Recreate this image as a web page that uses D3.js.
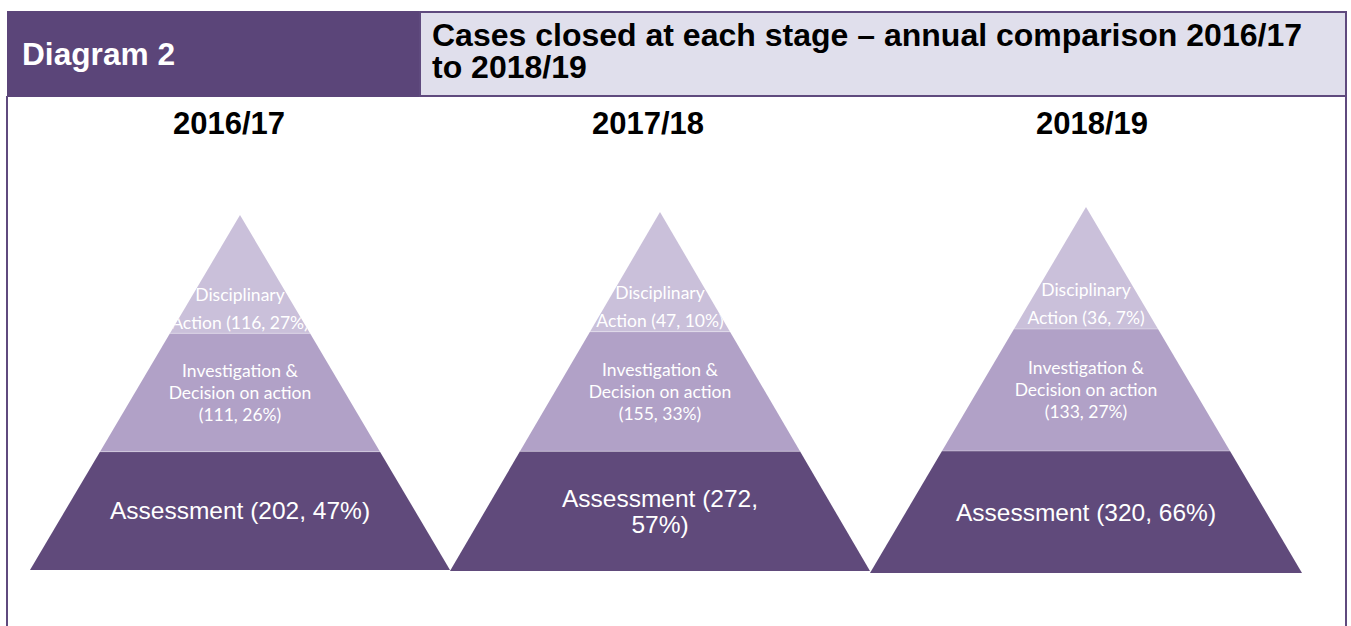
<!DOCTYPE html>
<html>
<head>
<meta charset="utf-8">
<script src="https://cdn.jsdelivr.net/npm/d3@7"></script>
<style>
html,body{margin:0;padding:0;background:#ffffff;overflow:hidden}
</style>
</head>
<body>
<svg id="chart" width="1351" height="626"></svg>
<script>
// ---------------- DATA ----------------
const years = ["2016/17", "2017/18", "2018/19"];
const stageNames = ["Assessment", "Investigation & Decision on action", "Disciplinary Action"];
const assessmentCounts = [202, 272, 320];
const assessmentPcts = [47, 57, 66];
const investigationCounts = [111, 155, 133];
const investigationPcts = [26, 33, 27];
const disciplinaryCounts = [116, 47, 36];
const disciplinaryPcts = [27, 10, 7];
const diagramLabel = "Diagram 2";
const titleLines = ["Cases closed at each stage \u2013 annual comparison 2016/17", "to 2018/19"];

// ---------------- LAYOUT ----------------
const W = 1351, H = 626;
const frames = [
  {cx: 240,  apexY: 215, half: 210, baseY: 570, wrapW: 300, yearX: 229},
  {cx: 660,  apexY: 212, half: 210, baseY: 571, wrapW: 240, yearX: 648},
  {cx: 1086, apexY: 207, half: 216, baseY: 573, wrapW: 330, yearX: 1092}
];
const colors = {
  header: "#5B4579",
  headerLight: "#E0DFEC",
  border: "#5F4A7E",
  bands: ["#604A7B", "#B1A1C7", "#CAC0DA"]
};
const sansBold = "'Liberation Sans', Arial, sans-serif";
const calibriLike = "Lato, 'Open Sans', sans-serif";
const headFs = 31;

const svg = d3.select("#chart");

// ---------------- HEADER ----------------
svg.append("rect").attr("x", 7).attr("y", 11).attr("width", 413).attr("height", 86)
  .attr("fill", colors.header);
svg.append("rect").attr("x", 420).attr("y", 12).attr("width", 926).attr("height", 84)
  .attr("fill", colors.headerLight).attr("stroke", colors.border).attr("stroke-width", 2);
svg.append("line").attr("x1", 7).attr("x2", 7).attr("y1", 96).attr("y2", H)
  .attr("stroke", colors.border).attr("stroke-width", 2);
svg.append("line").attr("x1", 1346).attr("x2", 1346).attr("y1", 12).attr("y2", H)
  .attr("stroke", colors.border).attr("stroke-width", 2);

function fitWidth(sel, target) {
  const w = sel.node().getComputedTextLength();
  sel.attr("textLength", target).attr("lengthAdjust", "spacingAndGlyphs");
  return target / w;
}

const diag = svg.append("text").attr("x", 22).attr("y", 65)
  .attr("font-family", sansBold).attr("font-weight", "bold").attr("font-size", headFs)
  .attr("fill", "#ffffff").text(diagramLabel);
fitWidth(diag, 153);

const titleG = svg.append("g");
let titleScale = 1;
titleLines.forEach((t, i) => {
  const el = titleG.append("text").attr("x", 432).attr("y", 46 + i * 32)
    .attr("font-family", sansBold).attr("font-weight", "bold").attr("font-size", headFs)
    .attr("fill", "#000000").text(t);
  if (i === 0) titleScale = fitWidth(el, 870);
  else {
    const w = el.node().getComputedTextLength();
    el.attr("textLength", w * titleScale).attr("lengthAdjust", "spacingAndGlyphs");
  }
});

// year labels
svg.selectAll("text.year").data(years).join("text").attr("class", "year")
  .attr("x", (d, i) => frames[i].yearX).attr("y", 134)
  .attr("text-anchor", "middle")
  .attr("font-family", sansBold).attr("font-weight", "bold").attr("font-size", headFs)
  .attr("fill", "#000000").text(d => d);

// ---------------- PYRAMIDS ----------------
const defs = svg.append("defs");

years.forEach((yr, i) => {
  const f = frames[i];
  const yScale = d3.scaleLinear().domain([0, 3]).range([f.baseY, f.apexY]);
  const halfW = d3.scaleLinear().domain([f.apexY, f.baseY]).range([0, f.half]);

  const stages = [
    {level: 0, name: stageNames[0], count: assessmentCounts[i], pct: assessmentPcts[i]},
    {level: 1, name: stageNames[1], count: investigationCounts[i], pct: investigationPcts[i]},
    {level: 2, name: stageNames[2], count: disciplinaryCounts[i], pct: disciplinaryPcts[i]}
  ];

  const poly = d => {
    const y0 = yScale(d.level), y1 = yScale(d.level + 1);
    return [[f.cx - halfW(y0), y0], [f.cx + halfW(y0), y0], [f.cx + halfW(y1), y1], [f.cx - halfW(y1), y1]];
  };
  const line = d3.line();

  const g = svg.append("g").attr("class", "pyramid");
  g.selectAll("path.band").data(stages).join("path").attr("class", "band")
    .attr("d", d => line(poly(d)) + "Z")
    .attr("fill", d => colors.bands[d.level]);
  g.selectAll("line.sep").data([1, 2]).join("line").attr("class", "sep")
    .attr("x1", d => f.cx - halfW(yScale(d))).attr("x2", d => f.cx + halfW(yScale(d)))
    .attr("y1", d => yScale(d)).attr("y2", d => yScale(d))
    .attr("stroke", "#ffffff").attr("stroke-opacity", 0.35).attr("stroke-width", 1);

  const clipId = "clipTop" + i;
  defs.append("clipPath").attr("id", clipId).append("path")
    .attr("d", line(poly(stages[2])) + "Z");

  // bottom label (wraps)
  const b = stages[0];
  const bCenter = (yScale(0) + yScale(1)) / 2;
  const bText = `${b.name} (${b.count}, ${b.pct}%)`;
  const bFs = 24.5, bLh = 26;
  const tmp = g.append("text").attr("font-family", "'Liberation Sans', Arial, sans-serif")
    .attr("font-size", bFs);
  const words = bText.split(" ");
  const lines = [];
  let cur = "";
  words.forEach(w => {
    const test = cur ? cur + " " + w : w;
    tmp.text(test);
    if (tmp.node().getComputedTextLength() > f.wrapW && cur) { lines.push(cur); cur = w; }
    else cur = test;
  });
  lines.push(cur);
  tmp.remove();
  const bt = g.append("text").attr("text-anchor", "middle")
    .attr("font-family", "'Liberation Sans', Arial, sans-serif").attr("font-size", bFs)
    .attr("fill", "#ffffff");
  lines.forEach((l, k) => {
    bt.append("tspan").attr("x", f.cx)
      .attr("y", bCenter + (k - (lines.length - 1) / 2) * bLh + bFs * 0.35)
      .text(l);
  });

  // middle label
  const m = stages[1];
  const mCenter = (yScale(1) + yScale(2)) / 2;
  const mLines = ["Investigation &", "Decision on action", `(${m.count}, ${m.pct}%)`];
  const mFs = 17.5, mLh = 22;
  const mt = g.append("text").attr("text-anchor", "middle")
    .attr("font-family", calibriLike).attr("font-size", mFs).attr("fill", "#ffffff");
  mLines.forEach((l, k) => {
    mt.append("tspan").attr("x", f.cx)
      .attr("y", mCenter + (k - 1) * mLh + mFs * 0.35).text(l);
  });

  // top label (clipped to triangle)
  const t = stages[2];
  const tCenter = f.apexY + 0.79 * (yScale(2) - f.apexY);
  const tLines = ["Disciplinary", `Action (${t.count}, ${t.pct}%)`];
  const tFs = 17.5, tLh = 28;
  const tt = g.append("text").attr("text-anchor", "middle").attr("clip-path", `url(#${clipId})`)
    .attr("font-family", calibriLike).attr("font-size", tFs).attr("fill", "#ffffff");
  tLines.forEach((l, k) => {
    tt.append("tspan").attr("x", f.cx)
      .attr("y", tCenter + (k - 0.5) * tLh + tFs * 0.35).text(l);
  });
});
</script>
</body>
</html>
